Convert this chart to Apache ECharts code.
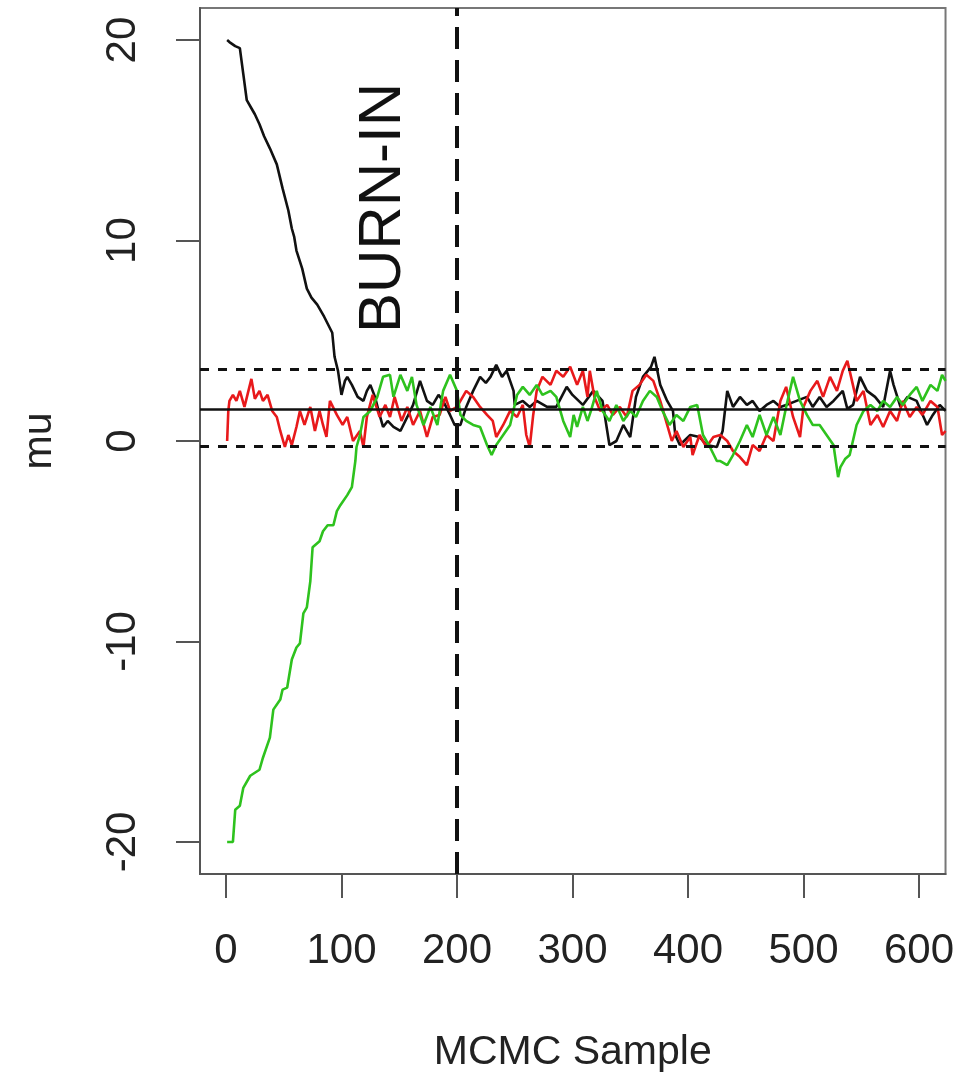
<!DOCTYPE html>
<html>
<head>
<meta charset="utf-8">
<script src="https://cdn.jsdelivr.net/npm/echarts@6/dist/echarts.min.js"></script>
<style>
html,body{margin:0;padding:0;background:#fff;}
#chart{width:957px;height:1078px;}
</style>
</head>
<body>
<div id="chart"></div>
<script>
// ---- data ----
var xTicks = [0, 100, 200, 300, 400, 500, 600];
var yTicks = [-20, -10, 0, 10, 20];

var blackX = [1,3,8,12,15,18,22,25,29,33,38,44,49,54,57,59,61,66,70,74,79,85,92,94,97,100,103,105,109,114,119,122,125,129,133,136,140,145,151,157,162,168,174,179,184,188,194,198,203,208,214,220,225,229,234,239,243,249,250,257,263,269,278,286,295,300,309,318,326,332,338,344,350,355,361,368,371,376,382,387,389,393,402,410,416,425,430,434,439,445,451,456,462,468,474,480,485,494,503,508,514,520,526,534,538,543,549,555,562,569,575,578,584,590,598,607,612,618,623];
var blackY = [20.0,19.9,19.7,19.6,18.3,17.0,16.6,16.3,15.8,15.2,14.6,13.8,12.6,11.5,10.6,10.2,9.5,8.6,7.6,7.15,6.8,6.2,5.4,4.2,3.5,2.3,3.0,3.2,2.8,2.2,2.0,2.5,2.8,2.2,1.3,0.7,1.0,0.7,0.5,1.2,1.8,3.0,2.0,1.8,2.3,2.0,1.3,0.8,0.8,1.7,2.5,3.2,2.9,3.2,3.8,3.2,3.5,2.5,1.8,2.0,1.7,2.0,1.7,1.7,2.7,2.3,1.8,2.5,2.0,-0.2,0.0,0.8,0.2,2.2,3.2,3.7,4.2,2.8,2.0,1.5,0.3,-0.2,0.3,0.2,-0.2,-0.3,0.5,2.5,1.7,2.2,1.8,2.0,1.5,1.8,2.0,1.7,1.8,2.0,2.2,1.7,2.2,1.7,2.0,2.5,1.6,1.8,3.2,2.5,2.2,1.7,3.5,2.8,1.7,2.2,2.0,0.8,1.3,1.8,1.5];

var redX = [1,2,3,6,9,12,16,19,22,25,29,32,36,40,44,47,51,54,57,61,64,68,73,77,81,84,87,90,96,101,105,110,116,119,122,127,133,138,142,146,152,157,162,168,174,179,185,190,194,200,203,208,214,220,226,231,234,240,246,252,257,260,263,266,269,274,281,286,292,298,304,309,313,315,319,324,330,335,341,347,352,358,364,370,376,382,386,390,396,402,404,410,416,422,428,434,439,445,451,456,462,468,474,480,485,491,497,500,506,512,517,523,529,534,538,540,546,552,558,564,569,575,581,586,592,598,603,610,616,620,623];
var redY = [0.0,1.5,2.0,2.3,2.0,2.5,1.7,2.4,3.1,2.1,2.5,2.0,2.3,1.5,1.2,0.5,-0.3,0.3,-0.2,0.7,1.5,0.8,1.7,0.5,1.5,0.8,0.2,2.0,1.3,0.8,1.2,0.0,0.5,-0.3,1.2,2.3,1.2,1.8,1.2,2.2,1.0,1.7,0.8,1.5,0.2,1.2,1.3,2.2,1.5,1.7,2.0,2.5,2.2,1.7,1.3,1.0,0.2,0.8,1.5,1.2,1.8,0.3,-0.3,1.3,2.5,3.2,2.8,3.5,3.2,3.7,2.8,3.5,2.2,3.5,2.2,1.5,1.8,1.3,1.7,1.2,2.5,2.8,3.3,3.0,2.0,0.8,0.0,0.5,-0.3,0.2,-0.7,0.3,-0.3,0.2,0.3,0.0,-0.5,-0.8,-1.2,-0.2,-0.5,0.3,0.0,2.0,2.7,1.2,0.2,1.7,2.5,3.0,2.2,3.2,2.5,3.5,4.0,3.5,2.0,2.5,0.8,1.3,0.7,1.5,1.0,2.0,1.2,1.7,1.3,2.0,1.7,0.3,0.5];

var greenX = [1,6,8,12,15,21,29,32,38,41,47,49,53,57,61,64,67,70,73,75,81,84,88,93,96,99,105,109,112,113,116,119,125,131,136,142,145,151,157,161,165,171,177,183,188,194,200,203,208,214,220,226,230,234,240,246,252,257,263,269,274,281,286,292,298,301,304,309,313,316,321,326,332,338,344,350,355,361,367,373,378,384,390,396,402,408,413,419,425,428,434,439,445,451,456,462,468,474,480,485,491,497,503,508,514,520,526,530,532,536,540,546,552,558,564,569,575,581,586,592,598,603,610,616,620,623];
var greenY = [-20.0,-20.0,-18.4,-18.2,-17.3,-16.7,-16.4,-15.8,-14.8,-13.4,-12.9,-12.4,-12.3,-10.9,-10.3,-10.1,-8.6,-8.3,-7.0,-5.3,-5.0,-4.5,-4.2,-4.2,-3.5,-3.2,-2.7,-2.3,-1.0,-0.3,0.3,1.2,1.5,2.2,3.2,3.3,2.2,3.3,2.5,3.2,1.8,0.8,1.7,0.8,2.5,3.3,2.5,1.3,1.0,0.8,0.7,-0.2,-0.7,-0.2,0.3,0.8,2.3,2.7,2.3,2.8,2.3,2.5,2.2,1.0,0.2,1.3,0.7,1.7,1.0,1.5,2.5,1.5,1.0,1.8,1.0,1.5,1.2,2.0,2.5,2.2,1.5,0.8,1.3,1.0,1.7,1.8,0.3,-0.3,-1.0,-1.0,-1.2,-0.7,0.0,0.8,0.2,1.3,0.3,1.2,0.3,1.7,3.2,2.0,1.3,0.8,0.8,0.3,-0.2,-1.8,-1.3,-0.9,-0.7,0.8,1.5,1.8,1.5,2.0,1.7,2.2,1.8,2.3,2.7,2.0,2.8,2.5,3.3,3.0];

var meanLine = 1.6;
var upperLine = 3.6;
var lowerLine = -0.27;
var burnIn = 200;

function pairs(xs, ys) { return xs.map(function (x, i) { return [x, ys[i]]; }); }

var chart = echarts.init(document.getElementById('chart'), null, {renderer: 'canvas'});
var FONT = '"Liberation Sans", Arial, Helvetica, sans-serif';
var AX = '#555';

chart.setOption({
  animation: false,
  backgroundColor: '#fff',
  grid: {left: 200, right: 11, top: 8, bottom: 201, show: true, borderColor: '#777', borderWidth: 2, backgroundColor: 'transparent'},
  xAxis: {
    type: 'value', min: -22.5, max: 623,
    name: 'MCMC Sample', nameLocation: 'middle', nameGap: 158,
    nameTextStyle: {fontFamily: FONT, fontSize: 41, color: '#222'},
    axisLine: {show: true, onZero: false, lineStyle: {color: AX, width: 2}},
    axisTick: {show: true, inside: false, length: 24, lineStyle: {color: AX, width: 2}, customValues: xTicks},
    axisLabel: {fontFamily: FONT, fontSize: 42, color: '#222', margin: 56, customValues: xTicks},
    splitLine: {show: false}
  },
  yAxis: {
    type: 'value', min: -21.6, max: 21.6,
    name: 'mu', nameLocation: 'middle', nameGap: 140, nameRotate: 90,
    nameTextStyle: {fontFamily: FONT, fontSize: 41, color: '#222'},
    axisLine: {show: true, onZero: false, lineStyle: {color: AX, width: 2}},
    axisTick: {show: true, inside: false, length: 24, lineStyle: {color: AX, width: 2}, customValues: yTicks},
    axisLabel: {fontFamily: FONT, fontSize: 42, color: '#222', margin: 56, rotate: 90, customValues: yTicks},
    splitLine: {show: false}
  },
  series: [
    {type: 'line', data: pairs(blackX, blackY), showSymbol: false, lineStyle: {color: '#111', width: 2.6}, z: 2},
    {type: 'line', data: pairs(redX, redY), showSymbol: false, lineStyle: {color: '#e8191b', width: 2.6}, z: 3},
    {type: 'line', data: pairs(greenX, greenY), showSymbol: false, lineStyle: {color: '#2ec21e', width: 2.6}, z: 4},
    {type: 'line', data: [], z: 5,
      markLine: {
        silent: true, symbol: 'none', label: {show: false},
        data: [
          {yAxis: meanLine, lineStyle: {color: '#111', width: 2.5, type: 'solid'}},
          {yAxis: upperLine, lineStyle: {color: '#111', width: 3, type: [9, 9]}},
          {yAxis: lowerLine, lineStyle: {color: '#111', width: 3, type: [9, 9]}},
          {xAxis: burnIn, lineStyle: {color: '#111', width: 4, type: [22, 11]}}
        ]
      }
    }
  ],
  graphic: [{
    type: 'text', x: 383, y: 208, rotation: Math.PI / 2,
    style: {text: 'BURN-IN', fontFamily: FONT, fontSize: 60, fill: '#111', align: 'center', verticalAlign: 'middle'}
  }]
});
</script>
</body>
</html>
